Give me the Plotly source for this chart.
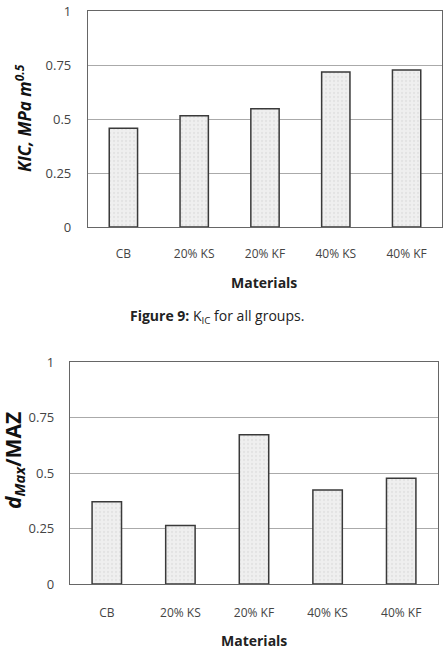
import plotly.graph_objects as go

categories = ["CB", "20% KS", "20% KF", "40% KS", "40% KF"]
kic_values = [0.457, 0.515, 0.548, 0.718, 0.727]
dmax_values = [0.37, 0.263, 0.672, 0.423, 0.476]
y_tickvals = [0, 0.25, 0.5, 0.75, 1]
y_ticktext = ["0", "0.25", "0.5", "0.75", "1"]

W, H = 447, 651
FONT = "Open Sans"

def px_x(x):
    return x / W

def px_y(y):
    return 1 - y / H

bar_style = dict(
    color="#ebebeb",
    line=dict(color="#3a3a3a", width=1.5),
    pattern=dict(shape=".", fgcolor="#d6d6d6", bgcolor="#efefef", size=4, solidity=0.25),
)

fig = go.Figure()
fig.add_trace(go.Bar(x=categories, y=kic_values, marker=bar_style, width=0.4,
                     xaxis="x", yaxis="y", showlegend=False))
fig.add_trace(go.Bar(x=categories, y=dmax_values, marker=bar_style, width=0.4,
                     xaxis="x2", yaxis="y2", showlegend=False))

axis_common_x = dict(showgrid=False, showline=True, mirror=True, linecolor="#666",
                     linewidth=1.2, ticks="", tickfont=dict(family=FONT, size=12, color="#444"),
                     fixedrange=True, automargin=False)
axis_common_y = dict(range=[0, 1], tickvals=y_tickvals, ticktext=y_ticktext,
                     showgrid=True, gridcolor="#aaaaaa", gridwidth=1,
                     showline=True, mirror=True, linecolor="#666", linewidth=1.2,
                     ticks="", tickfont=dict(family=FONT, size=13, color="#444"),
                     zeroline=False, fixedrange=True, automargin=False)

def ann(text, x, y, size, angle=0, color="#222"):
    return dict(text=text, x=px_x(x), y=px_y(y), xref="paper", yref="paper",
                xanchor="center", yanchor="middle", showarrow=False, textangle=angle,
                font=dict(family=FONT, size=size, color=color))

fig.update_layout(
    width=W, height=H, autosize=False,
    margin=dict(l=0, r=0, t=0, b=0, pad=0, autoexpand=False),
    paper_bgcolor="white", plot_bgcolor="white",
    bargap=0.6,
    xaxis=dict(domain=[px_x(88), px_x(442)], anchor="y", **axis_common_x, ticklabelstandoff=15),
    yaxis=dict(domain=[px_y(227), px_y(11)], anchor="x", **axis_common_y, ticklabelstandoff=13),
    xaxis2=dict(domain=[px_x(70), px_x(438)], anchor="y2", **axis_common_x, ticklabelstandoff=17),
    yaxis2=dict(domain=[px_y(584), px_y(362)], anchor="x2", **axis_common_y, ticklabelstandoff=12),
    annotations=[
        ann("<b>Materials</b>", 264, 283, 14),
        ann("<b><i>KIC, MPa m<sup>0.5</sup></i></b>", 23, 118, 17, -90, "#111"),
        ann("<b>Figure 9:</b> K<sub>IC</sub> for all groups.", 217, 316, 14),
        ann("<b>Materials</b>", 254, 640, 14),
        ann("<b><i>d<sub>Max</sub></i>/MAZ</b>", 14, 461, 21, -90, "#111"),
    ],
)

fig.write_html("out.html")
